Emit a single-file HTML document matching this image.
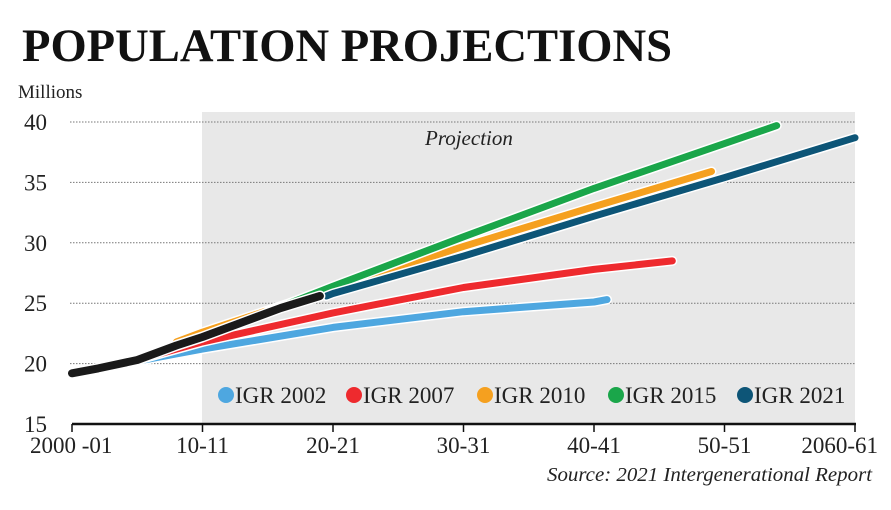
<!DOCTYPE html>
<html><head><meta charset="utf-8"><style>
body{margin:0;background:#fff;}
svg{display:block;}
</style></head><body>
<svg id="chart" width="891" height="510" xmlns="http://www.w3.org/2000/svg">
<rect x="0" y="0" width="891" height="510" fill="#fff"/>
<text x="22" y="61" font-family="Liberation Serif, serif" font-weight="bold" font-size="47" fill="#111" textLength="650" lengthAdjust="spacingAndGlyphs">POPULATION PROJECTIONS</text>
<text x="18" y="98" font-family="Liberation Serif, serif" font-size="19" fill="#222">Millions</text>
<rect x="202" y="112" width="653" height="312" fill="#e8e8e8"/>
<text x="425" y="145" font-family="Liberation Serif, serif" font-style="italic" font-size="21" fill="#222">Projection</text>
<g id="grid"></g><g id="series"></g><g id="axis"></g><g id="legend"></g>
<text x="872" y="481" text-anchor="end" font-family="Liberation Serif, serif" font-style="italic" font-size="20" fill="#222" textLength="325" lengthAdjust="spacingAndGlyphs">Source: 2021 Intergenerational Report</text>
</svg>
<script>
const yTicks=[15,20,25,30,35,40];
const xTickYears=[0,10,20,30,40,50,60];
const xTickLabels=["2000 -01","10-11","20-21","30-31","40-41","50-51","2060-61"];
const seriesNames=["IGR 2002","IGR 2007","IGR 2010","IGR 2015","IGR 2021"];
const seriesColors=["#4ea7e0","#ee2a2e","#f5a01f","#1aa64a","#0d5577"];
const igr2002Years=[5,10,20,30,40,41];
const igr2002Values=[20.2,21.2,23.0,24.3,25.1,25.3];
const igr2007Years=[5,10,20,30,40,46];
const igr2007Values=[20.3,21.8,24.2,26.3,27.8,28.5];
const igr2010Years=[8,10,20,30,40,49];
const igr2010Values=[21.8,22.6,26.2,29.7,33.0,35.9];
const igr2015Years=[15,20,30,40,54];
const igr2015Values=[24.3,26.4,30.5,34.5,39.7];
const igr2021Years=[19.5,20,30,40,50,60];
const igr2021Values=[25.6,25.8,28.9,32.2,35.4,38.7];
const actualYears=[0,2,5,8,10,13,16,19];
const actualValues=[19.2,19.6,20.3,21.5,22.2,23.4,24.6,25.6];

const NS="http://www.w3.org/2000/svg";
const xS=y=>72+y*(855-72)/60;
const yS=v=>424-(v-15)*(424-122)/25;
function mk(tag,attrs,parent){const e=document.createElementNS(NS,tag);for(const k in attrs)e.setAttribute(k,attrs[k]);parent.appendChild(e);return e;}
const grid=document.getElementById('grid'),axis=document.getElementById('axis'),ser=document.getElementById('series'),leg=document.getElementById('legend');
yTicks.forEach(t=>{
 if(t>15){const l=mk('line',{x1:70,x2:855,y1:yS(t),y2:yS(t),stroke:'#777','stroke-width':1,'stroke-dasharray':'1.5 1.5'},grid);
 
 }
 const tx=mk('text',{x:47,y:yS(t)+8,'text-anchor':'end','font-family':'Liberation Serif, serif','font-size':23,fill:'#222'},axis);
 tx.textContent=t;
 
 
});
const ax=mk('line',{x1:72,x2:856,y1:424,y2:424,stroke:'#111','stroke-width':2.5},axis);


xTickYears.forEach((yr,i)=>{
 const tk=mk('line',{x1:xS(yr),x2:xS(yr),y1:424,y2:432,stroke:'#111','stroke-width':1.5},axis);
 
 
 const anchor=i==0?'start':(i==6?'end':'middle');
 const xx=i==0?30:(i==6?878:xS(yr));
 const tx=mk('text',{x:xx,y:453,'text-anchor':anchor,'font-family':'Liberation Serif, serif','font-size':23,fill:'#222'},axis);
 tx.textContent=xTickLabels[i];
 
 
});
function draw(xs,vs,color,name,w){
 const d=xs.map((x,i)=>(i?'L':'M')+xS(x).toFixed(1)+','+yS(vs[i]).toFixed(1)).join(' ');
 const h=mk('path',{d:d,fill:'none',stroke:'#fff','stroke-width':w+3,'stroke-linecap':'round','stroke-linejoin':'round'},ser);
 
 
 const p=mk('path',{d:d,fill:'none',stroke:color,'stroke-width':w,'stroke-linecap':'round','stroke-linejoin':'round'},ser);
 
 
}
draw(igr2002Years,igr2002Values,seriesColors[0],'igr-2002',7);
draw(igr2007Years,igr2007Values,seriesColors[1],'igr-2007',7);
draw(igr2010Years,igr2010Values,seriesColors[2],'igr-2010',7);
draw(igr2015Years,igr2015Values,seriesColors[3],'igr-2015',7);
draw(igr2021Years,igr2021Values,seriesColors[4],'igr-2021',7);
draw(actualYears,actualValues,'#1a1a1a','actual',8);
const legX=[218,346,477,608,737];
seriesNames.forEach((n,i)=>{
 const c=mk('circle',{cx:legX[i]+8,cy:395,r:8,fill:seriesColors[i]},leg);
 
 
 const t=mk('text',{x:legX[i]+17,y:403,'font-family':'Liberation Serif, serif','font-size':23,fill:'#222'},leg);
 t.textContent=n;
 
 
});
</script>
</body></html>
